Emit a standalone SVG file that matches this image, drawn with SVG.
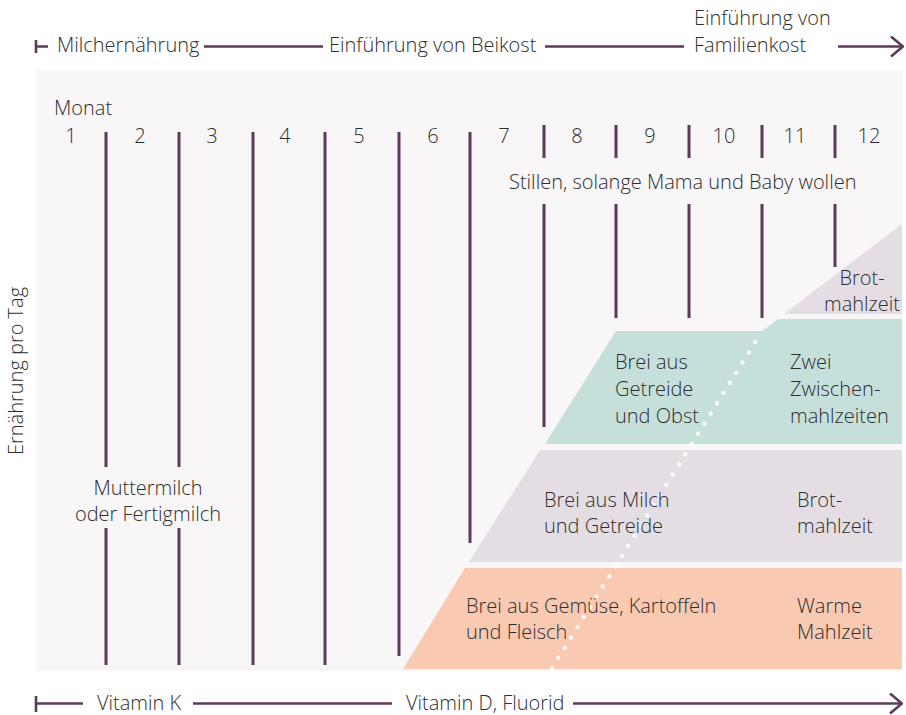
<svg xmlns="http://www.w3.org/2000/svg" width="906" height="715" viewBox="0 0 906 715">
<style>
text{font-family:"Open Sans","Liberation Sans",sans-serif;font-weight:300;font-size:20px;fill:#2e2e2e}
.m{text-anchor:middle}
.v{stroke:#5c3a5a;stroke-width:3;fill:none}
.ar{stroke:#5c3a5a;stroke-width:2.6;fill:none}
</style>
<defs>
<marker id="chev" viewBox="0 0 14 22" refX="13" refY="11" markerWidth="14" markerHeight="22" markerUnits="userSpaceOnUse" orient="auto">
<path d="M1,1 L13,11 L1,21" fill="none" stroke="#5c3a5a" stroke-width="2.6"/>
</marker>
</defs>
<rect id="panel" x="36" y="70" width="866" height="601" fill="#f8f6f7"/>

<g id="bands">
<polygon id="shape-gemuese" points="403,669 465,568 902,568 902,669" fill="#f9c9b2"/>
<polygon id="shape-milch" points="469,562 540,450 902,450 902,562" fill="#e4dee4"/>
<polygon id="shape-obst" points="545,444 616,331 762,331 778,319 902,319 902,444" fill="#c5e0db"/>
<polygon id="shape-brot" points="784,314 902,224 902,314" fill="#e4dee4"/>
</g>
<g id="dotted">
<line x1="552" y1="668" x2="761" y2="333" stroke="#fff" stroke-opacity="0.85" stroke-width="4.5" stroke-linecap="round" stroke-dasharray="0 12"/>
</g>
<g id="band-gemuese">
<text x="466" y="613">Brei aus Gemüse, Kartoffeln</text>
<text x="466" y="639">und Fleisch</text>
<text x="797" y="613">Warme</text>
<text x="797" y="639">Mahlzeit</text>
</g>
<g id="band-milch">
<text x="544" y="507">Brei aus Milch</text>
<text x="544" y="533">und Getreide</text>
<text x="797" y="507">Brot-</text>
<text x="797" y="533">mahlzeit</text>
</g>
<g id="band-obst">
<text x="615" y="369">Brei aus</text>
<text x="615" y="396">Getreide</text>
<text x="615" y="423">und Obst</text>
<text x="790" y="369">Zwei</text>
<text x="790" y="396">Zwischen-</text>
<text x="790" y="423">mahlzeiten</text>
</g>
<g id="band-brot">
<text class="m" x="862" y="285">Brot-</text>
<text class="m" x="862" y="311">mahlzeit</text>
</g>

<g id="months">
<text x="54" y="115">Monat</text>
<text class="m" x="71" y="143">1</text>
<text class="m" x="140" y="143">2</text>
<text class="m" x="212" y="143">3</text>
<text class="m" x="285" y="143">4</text>
<text class="m" x="359" y="143">5</text>
<text class="m" x="433" y="143">6</text>
<text class="m" x="504" y="143">7</text>
<text class="m" x="577" y="143">8</text>
<text class="m" x="650" y="143">9</text>
<text class="m" x="724" y="143">10</text>
<text class="m" x="795" y="143">11</text>
<text class="m" x="869" y="143">12</text>
</g>
<g id="gridlines">
<path class="v" d="M106,132V467M106,528V665M179,132V467M179,528V665M253,132V665M325,132V665M399,132V656M470,132V543M544,125V158M544,204V427M616,125V158M616,204V318M689,125V158M689,204V318M762,125V158M762,204V318M835,125V158M835,204V267"/>
</g>
<g id="labels">
<text x="509" y="189">Stillen, solange Mama und Baby wollen</text>
<text class="m" x="148" y="495">Muttermilch</text>
<text class="m" x="148" y="521">oder Fertigmilch</text>
<text class="m" transform="translate(23,371) rotate(-90)">Ernährung pro Tag</text>
</g>

<g id="connectors">
<path class="ar" d="M36,40V53M36,46.5H48"/>
<line class="ar" x1="204" y1="46.5" x2="323" y2="46.5"/>
<line class="ar" x1="545" y1="46.5" x2="684" y2="46.5"/>
<line class="ar" x1="838" y1="46.5" x2="903" y2="46.5" marker-end="url(#chev)"/>
<path class="ar" d="M36,696V712M36,703.5H83"/>
<line class="ar" x1="193" y1="703.5" x2="392" y2="703.5"/>
<line class="ar" x1="573" y1="703.5" x2="902" y2="703.5" marker-end="url(#chev)"/>
</g>
<g id="phase-labels">
<text x="57" y="52">Milchernährung</text>
<text x="329" y="52">Einführung von Beikost</text>
<text x="694" y="25">Einführung von</text>
<text x="694" y="52">Familienkost</text>
<text x="97" y="710">Vitamin K</text>
<text x="406" y="710">Vitamin D, Fluorid</text>
</g>
</svg>
